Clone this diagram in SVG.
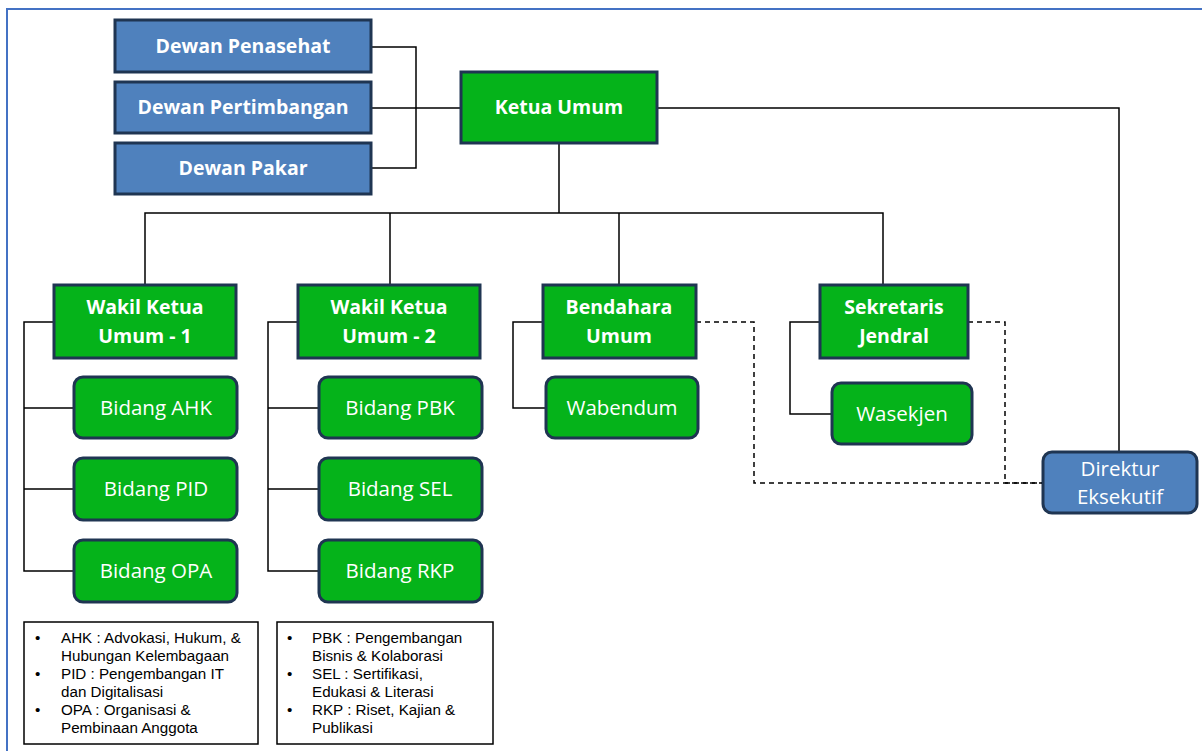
<svg xmlns="http://www.w3.org/2000/svg" width="1202" height="751" viewBox="0 0 1202 751">
<style>
.g{fill:#05B31A;stroke:#1F3552;stroke-width:3}
.b{fill:#4F81BD;stroke:#1F3552;stroke-width:3}
.tb{font-family:"Open Sans","Liberation Sans",sans-serif;font-weight:bold;font-size:19.5px;fill:#fff;text-anchor:middle}
.tr{font-family:"Open Sans","Liberation Sans",sans-serif;font-size:20.5px;fill:#fff;text-anchor:middle}
.ln{fill:none;stroke:#000;stroke-width:1.5}
.dl{fill:none;stroke:#000;stroke-width:1.5;stroke-dasharray:5 4}
.lg{font-family:"Liberation Sans",Arial,sans-serif;font-size:15.2px;fill:#000}
</style>
<rect width="1202" height="751" fill="#fff"/>
<path d="M7,751 V9 H1202" fill="none" stroke="#4472C4" stroke-width="2"/>
<g id="connectors">
<path class="ln" d="M371,47 H416 V168 H371 M371,108 H461"/>
<path class="ln" d="M559,143 V213 M145,285 V213 H883 V285 M390,213 V285 M619,213 V285"/>
<path class="ln" d="M657,108 H1119 V452"/>
<path class="ln" d="M54,322 H24 V571 H74 M24,408 H74 M24,489 H74"/>
<path class="ln" d="M298,322 H268 V571 H319 M268,408 H319 M268,489 H319"/>
<path class="ln" d="M543,322 H513 V408 H546"/>
<path class="ln" d="M820,322 H790 V414 H832"/>
<path class="dl" d="M696,322 H754 V483 H1043"/>
<path class="dl" d="M968,322 H1005 V483 H1043"/>
</g>
<g id="dewan-penasehat"><rect class="b" x="115" y="20" width="256" height="52"/><text class="tb" x="243" y="53">Dewan Penasehat</text></g>
<g id="dewan-pertimbangan"><rect class="b" x="115" y="82" width="256" height="51"/><text class="tb" x="243" y="114">Dewan Pertimbangan</text></g>
<g id="dewan-pakar"><rect class="b" x="115" y="143" width="256" height="51"/><text class="tb" x="243" y="175">Dewan Pakar</text></g>
<g id="ketua-umum"><rect class="g" x="461" y="72" width="196" height="71"/><text class="tb" x="559" y="114">Ketua Umum</text></g>
<g id="wakil-1"><rect class="g" x="54" y="285" width="182" height="73"/><text class="tb" x="145" y="314">Wakil Ketua</text><text class="tb" x="145" y="343">Umum - 1</text></g>
<g id="wakil-2"><rect class="g" x="298" y="285" width="182" height="73"/><text class="tb" x="389" y="314">Wakil Ketua</text><text class="tb" x="389" y="343">Umum - 2</text></g>
<g id="bendahara"><rect class="g" x="543" y="285" width="153" height="73"/><text class="tb" x="619" y="314">Bendahara</text><text class="tb" x="619" y="343">Umum</text></g>
<g id="sekjen"><rect class="g" x="820" y="285" width="148" height="73"/><text class="tb" x="894" y="314">Sekretaris</text><text class="tb" x="894" y="343">Jendral</text></g>
<g id="bidang-ahk"><rect class="g" x="74" y="377" width="163" height="61" rx="9"/><text class="tr" x="156" y="415">Bidang AHK</text></g>
<g id="bidang-pid"><rect class="g" x="74" y="458" width="163" height="62" rx="9"/><text class="tr" x="156" y="496">Bidang PID</text></g>
<g id="bidang-opa"><rect class="g" x="74" y="540" width="163" height="62" rx="9"/><text class="tr" x="156" y="578">Bidang OPA</text></g>
<g id="bidang-pbk"><rect class="g" x="319" y="377" width="163" height="61" rx="9"/><text class="tr" x="400" y="415">Bidang PBK</text></g>
<g id="bidang-sel"><rect class="g" x="319" y="458" width="163" height="62" rx="9"/><text class="tr" x="400" y="496">Bidang SEL</text></g>
<g id="bidang-rkp"><rect class="g" x="319" y="540" width="163" height="62" rx="9"/><text class="tr" x="400" y="578">Bidang RKP</text></g>
<g id="wabendum"><rect class="g" x="546" y="377" width="152" height="61" rx="9"/><text class="tr" x="622" y="415">Wabendum</text></g>
<g id="wasekjen"><rect class="g" x="832" y="383" width="140" height="61" rx="9"/><text class="tr" x="902" y="421">Wasekjen</text></g>
<g id="direktur"><rect class="b" x="1043" y="452" width="154" height="61" rx="9"/><text class="tr" x="1120" y="476">Direktur</text><text class="tr" x="1120" y="504">Eksekutif</text></g>
<g id="legend-1">
<rect x="24" y="622" width="234" height="122" fill="#fff" stroke="#000" stroke-width="1.5"/>
<g class="lg">
<text x="35" y="643">•</text><text x="61" y="643">AHK : Advokasi, Hukum, &amp;</text>
<text x="61" y="661">Hubungan Kelembagaan</text>
<text x="35" y="679">•</text><text x="61" y="679">PID : Pengembangan IT</text>
<text x="61" y="697">dan Digitalisasi</text>
<text x="35" y="715">•</text><text x="61" y="715">OPA : Organisasi &amp;</text>
<text x="61" y="733">Pembinaan Anggota</text>
</g>
</g>
<g id="legend-2">
<rect x="277" y="622" width="216" height="122" fill="#fff" stroke="#000" stroke-width="1.5"/>
<g class="lg">
<text x="287" y="643">•</text><text x="312" y="643">PBK : Pengembangan</text>
<text x="312" y="661">Bisnis &amp; Kolaborasi</text>
<text x="287" y="679">•</text><text x="312" y="679">SEL : Sertifikasi,</text>
<text x="312" y="697">Edukasi &amp; Literasi</text>
<text x="287" y="715">•</text><text x="312" y="715">RKP : Riset, Kajian &amp;</text>
<text x="312" y="733">Publikasi</text>
</g>
</g>
</svg>
